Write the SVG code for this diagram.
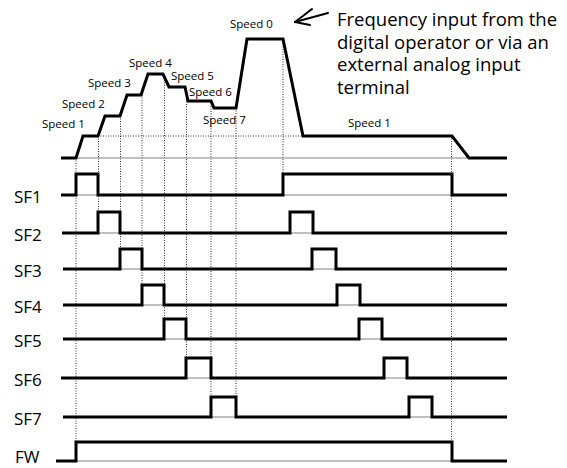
<svg xmlns="http://www.w3.org/2000/svg" width="567" height="468" viewBox="0 0 567 468">
<style>
.bg{fill:#ffffff}
.thick{fill:none;stroke:#000;stroke-width:3;stroke-linejoin:miter;stroke-linecap:butt}
.thin{fill:none;stroke:#808080;stroke-width:1}
.dot{fill:none;stroke:#333;stroke-width:1;stroke-dasharray:1 1.5}
.sp{font-family:"Open Sans","Liberation Sans",sans-serif;font-size:11.5px;fill:#000}
.lbl{font-family:"Open Sans","Liberation Sans",sans-serif;font-size:17px;fill:#000}
.big{font-family:"Open Sans","Liberation Sans",sans-serif;font-size:18.5px;fill:#000}
.arr{fill:none;stroke:#000;stroke-width:2;stroke-linecap:round}
</style>
<rect class="bg" x="0" y="0" width="567" height="468"/>
<g id="guides">
<line class="dot" x1="98" y1="136" x2="303" y2="136"/>
<line class="dot" x1="76" y1="158" x2="76" y2="442"/>
<line class="dot" x1="98.5" y1="136" x2="98.5" y2="212"/>
<line class="dot" x1="120.5" y1="116" x2="120.5" y2="249"/>
<line class="dot" x1="142" y1="95" x2="142" y2="285"/>
<line class="dot" x1="164.5" y1="80" x2="164.5" y2="319"/>
<line class="dot" x1="186.5" y1="94" x2="186.5" y2="358"/>
<line class="dot" x1="211" y1="101" x2="211" y2="397"/>
<line class="dot" x1="236" y1="108" x2="236" y2="397"/>
<line class="dot" x1="283" y1="39" x2="283" y2="174"/>
<line class="dot" x1="451.5" y1="136" x2="451.5" y2="442"/>
</g>
<g id="speed-profile">
<line class="thin" x1="61" y1="158" x2="507" y2="158" stroke-width="1.5"/>
<polyline class="thick" points="61,158 76,158 83,136 98,136 105,116 120,116 127,95 141,95 148,74 163,74 169,87 185,87 188,101 211,101 214,108 236,108 247,39 283,39 303,136 452,136 469,158 507,158"/>
<text class="sp" x="230" y="28">Speed 0</text>
<text class="sp" x="129" y="67">Speed 4</text>
<text class="sp" x="88" y="87">Speed 3</text>
<text class="sp" x="171" y="80">Speed 5</text>
<text class="sp" x="62" y="108">Speed 2</text>
<text class="sp" x="189" y="96">Speed 6</text>
<text class="sp" x="42" y="128">Speed 1</text>
<text class="sp" x="203" y="124">Speed 7</text>
<text class="sp" x="348" y="127">Speed 1</text>
</g>
<g id="note">
<line class="arr" x1="295" y1="22" x2="328" y2="13"/>
<line class="arr" x1="295" y1="22" x2="312" y2="9"/>
<line class="arr" x1="295" y1="22" x2="310" y2="25"/>
<text class="big" x="337" y="26">Frequency input from the</text>
<text class="big" x="337" y="48.7">digital operator or via an</text>
<text class="big" x="337" y="71.3">external analog input</text>
<text class="big" x="337" y="94">terminal</text>
</g>
<g id="SF1">
<text class="lbl" x="14" y="203">SF1</text>
<line class="thin" x1="76" y1="195" x2="98" y2="195"/>
<line class="thin" x1="283" y1="195" x2="452" y2="195"/>
<polyline class="thick" points="61,195 76,195 76,174 98,174 98,195 283,195 283,174 452,174 452,195 507,195"/>
</g>
<g id="SF2">
<text class="lbl" x="14" y="241">SF2</text>
<line class="thin" x1="98" y1="233" x2="120" y2="233"/>
<line class="thin" x1="290" y1="233" x2="313" y2="233"/>
<polyline class="thick" points="62,233 98,233 98,212 120,212 120,233 290,233 290,212 313,212 313,233 507,233"/>
</g>
<g id="SF3">
<text class="lbl" x="14" y="277">SF3</text>
<line class="thin" x1="120" y1="269" x2="142" y2="269"/>
<line class="thin" x1="312" y1="269" x2="336" y2="269"/>
<polyline class="thick" points="63,269 120,269 120,249 142,249 142,269 312,269 312,249 336,249 336,269 507,269"/>
</g>
<g id="SF4">
<text class="lbl" x="14" y="313">SF4</text>
<line class="thin" x1="142" y1="305" x2="164" y2="305"/>
<line class="thin" x1="337" y1="305" x2="360" y2="305"/>
<polyline class="thick" points="63,305 142,305 142,285 164,285 164,305 337,305 337,285 360,285 360,305 507,305"/>
</g>
<g id="SF5">
<text class="lbl" x="14" y="347">SF5</text>
<line class="thin" x1="164" y1="339" x2="186" y2="339"/>
<line class="thin" x1="359" y1="339" x2="382" y2="339"/>
<polyline class="thick" points="63,339 164,339 164,319 186,319 186,339 359,339 359,319 382,319 382,339 507,339"/>
</g>
<g id="SF6">
<text class="lbl" x="14" y="386">SF6</text>
<line class="thin" x1="186" y1="378" x2="211" y2="378"/>
<line class="thin" x1="384" y1="378" x2="407" y2="378"/>
<polyline class="thick" points="61,378 186,378 186,358 211,358 211,378 384,378 384,358 407,358 407,378 507,378"/>
</g>
<g id="SF7">
<text class="lbl" x="14" y="425">SF7</text>
<line class="thin" x1="211" y1="417" x2="236" y2="417"/>
<line class="thin" x1="409" y1="417" x2="432" y2="417"/>
<polyline class="thick" points="63,417 211,417 211,397 236,397 236,417 409,417 409,397 432,397 432,417 507,417"/>
</g>
<g id="FW">
<text class="lbl" x="15" y="463">FW</text>
<line class="thin" x1="76" y1="461" x2="452" y2="461"/>
<polyline class="thick" points="56,461 76,461 76,442 452,442 452,461 507,461"/>
</g>
</svg>
